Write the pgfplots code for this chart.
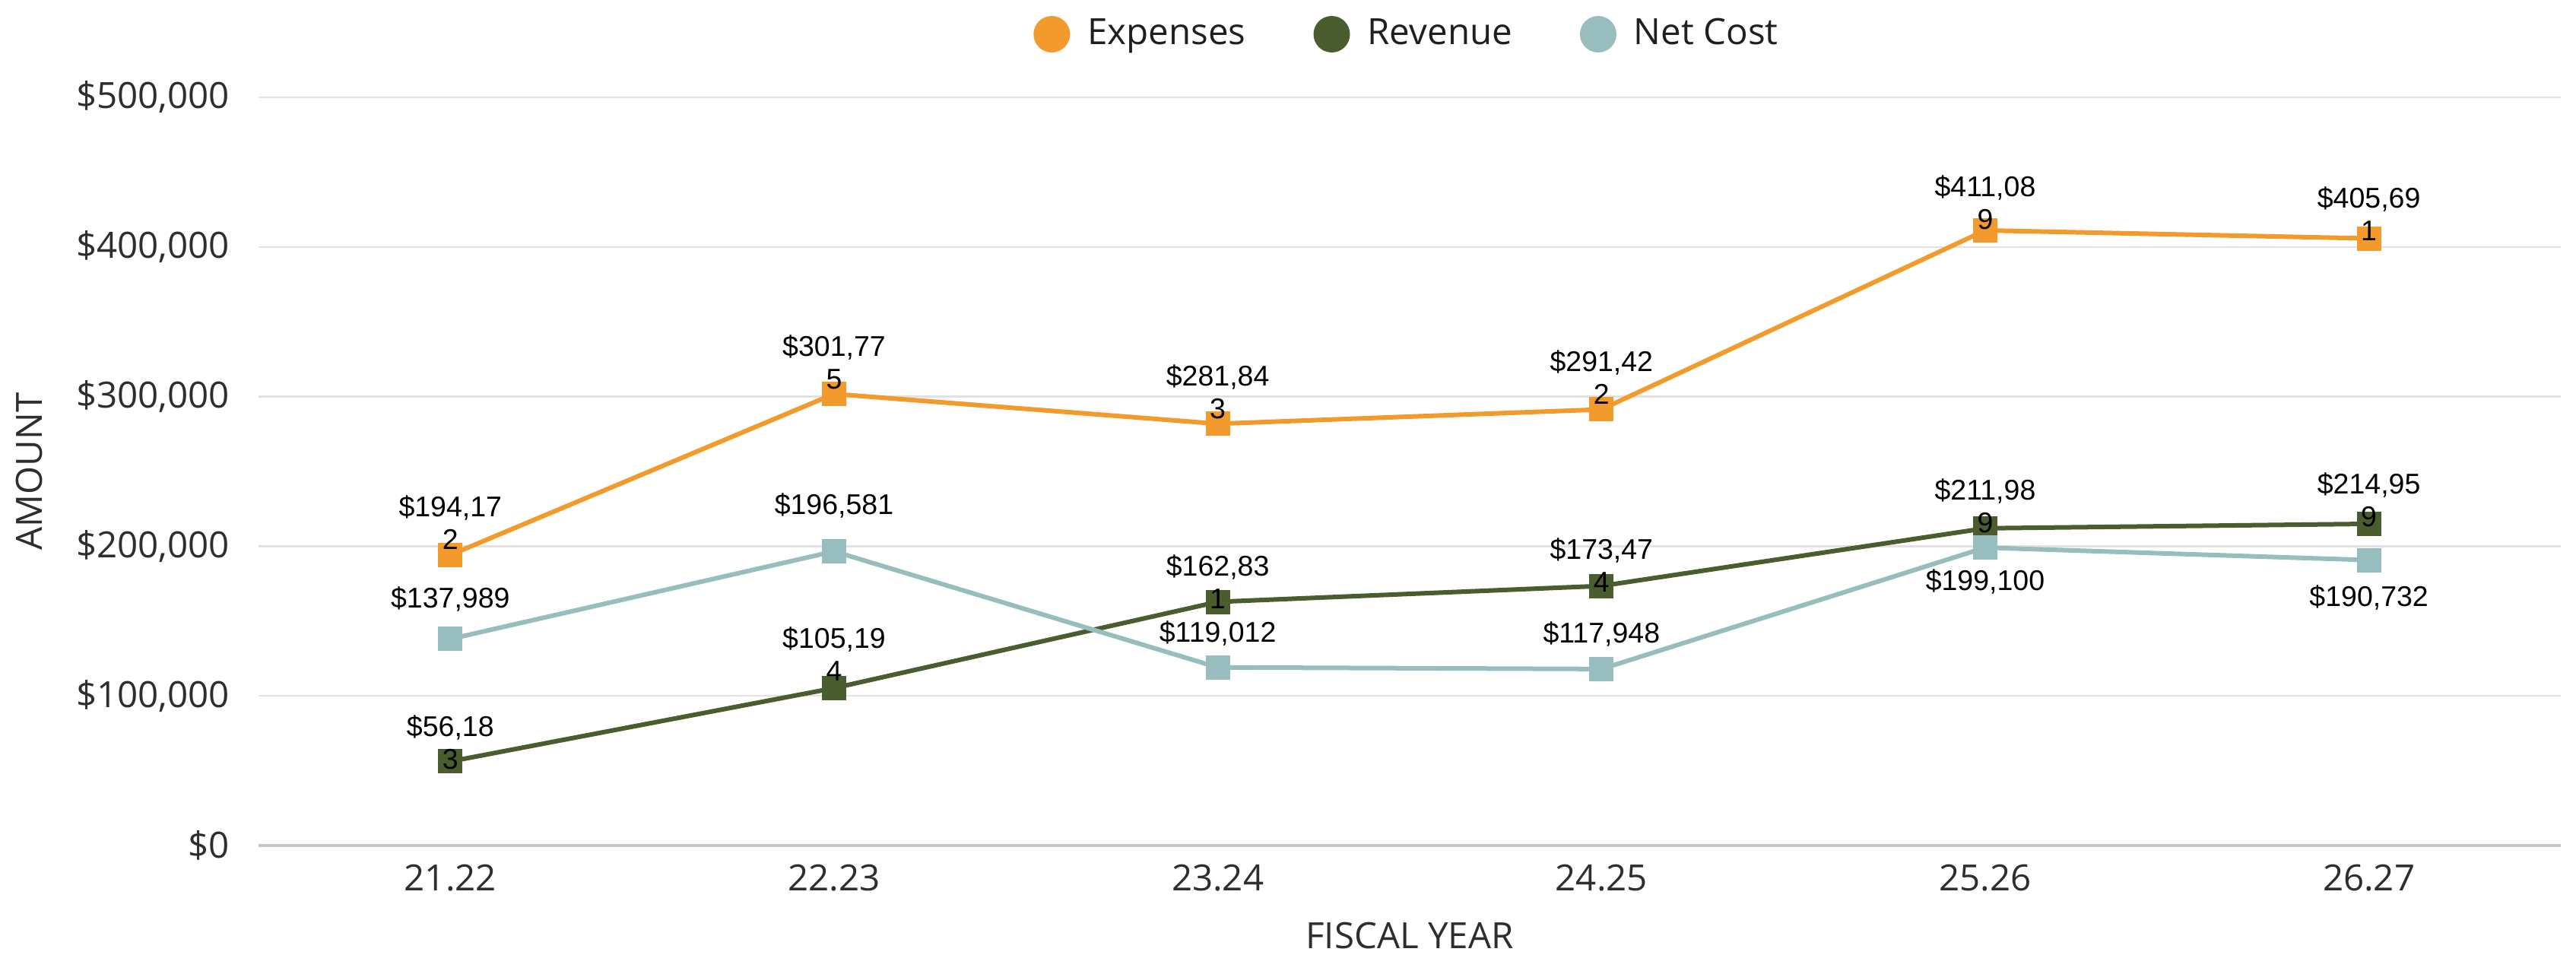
\documentclass[border=0pt]{standalone}
\usepackage{fontspec}
\setmainfont{Open Sans}
\newfontfamily\labelfont{Liberation Sans}
\usepackage{pgfplots}
\usepackage{pgfplotstable}
\pgfplotsset{compat=1.18}

\definecolor{expc}{HTML}{F39A2C}
\definecolor{revc}{HTML}{4A5D2F}
\definecolor{netc}{HTML}{98BDBE}
\definecolor{gridc}{HTML}{E2E2E2}
\definecolor{axisc}{HTML}{C6C6C6}
\definecolor{txtc}{HTML}{2E2E2E}

% x = category index, lab = data label as shown, off = label offset (pt)
\pgfplotstableread{
x y lab off
0 194172 {\$194,17\\2} 8.6
1 301775 {\$301,77\\5} 8.4
2 281843 {\$281,84\\3} 8.4
3 291422 {\$291,42\\2} 8.4
4 411089 {\$411,08\\9} 7.3
5 405691 {\$405,69\\1} 6.5
}\expenses

\pgfplotstableread{
x y lab off
0 56183 {\$56,18\\3} 5.1
1 105194 {\$105,19\\4} 8.9
2 162831 {\$162,83\\1} 5.2
3 173474 {\$173,47\\4} 5.5
4 211989 {\$211,98\\9} 5.9
5 214959 {\$214,95\\9} 6.3
}\revenue

\pgfplotstableread{
x y lab off
0 137989 {\$137,989} 10.4
1 196581 {\$196,581} 12.0
2 119012 {\$119,012} 8.9
3 117948 {\$117,948} 9.2
4 199100 {\$199,100} -8.9
5 190732 {\$190,732} -9.9
}\netcost

\pgfplotsset{
  datalabels/.style={
    nodes near coords, point meta=explicit symbolic,
    visualization depends on={\thisrow{off}\as\labeloff},
    every node near coord/.append style={font=\labelfont\fontsize{7.5}{8.6}\selectfont,
      text=black, align=center, anchor=center, inner sep=0pt, yshift=\labeloff pt}},
}

\begin{document}
\begin{tikzpicture}
\begin{axis}[
  scale only axis, width=605.6pt, height=196.8pt,
  xmin=-0.5, xmax=5.5, ymin=0, ymax=500000,
  xtick={0,...,5},
  xticklabels={21.22,22.23,23.24,24.25,25.26,26.27},
  ytick={0,100000,200000,300000,400000,500000},
  yticklabels={{\$0},{\$100,000},{\$200,000},{\$300,000},{\$400,000},{\$500,000}},
  scaled y ticks=false,
  ymajorgrids, grid style={draw=gridc, line width=0.5pt},
  axis x line*=bottom, axis y line*=left,
  x axis line style={draw=axisc, line width=0.8pt, -},
  y axis line style={draw=none},
  tick style={draw=none},
  ticklabel style={font=\fontsize{9.5}{11}\selectfont, text=txtc},
  xticklabel style={anchor=center, yshift=-8.6pt},
  yticklabel style={anchor=east, inner sep=0pt, xshift=-7.4pt},
  xlabel={FISCAL YEAR}, ylabel={AMOUNT},
  every axis x label/.style={at={(axis description cs:0.5,0)}, anchor=center, yshift=-23.8pt, font=\fontsize{9.5}{11}\selectfont, text=txtc},
  every axis y label/.style={at={(axis description cs:0,0.5)}, anchor=center, xshift=-60.2pt, rotate=90, font=\fontsize{9.5}{11}\selectfont, text=txtc},
  legend columns=3,
  legend style={at={(0.5,1)}, anchor=center, yshift=16.6pt, draw=none, fill=none,
    font=\fontsize{9.5}{11}\selectfont, text=black!88,
    nodes={inner sep=2pt},
    /tikz/every even column/.append style={column sep=15.8pt}},
  legend image code/.code={%
    \path[draw=none, fill=none] (0,-0.1pt) rectangle (12.2pt,0.1pt);
    \fill[#1, draw=none] (4.8pt,0) circle (4.8pt);},
  clip=false,
]
\addplot[color=expc, line width=1.2pt, mark=square*, mark size=2.6pt, mark options={solid}, datalabels]
  table[x=x, y=y, meta=lab] {\expenses};
\addplot[color=revc, line width=1.2pt, mark=square*, mark size=2.6pt, mark options={solid}, datalabels]
  table[x=x, y=y, meta=lab] {\revenue};
\addplot[color=netc, line width=1.2pt, mark=square*, mark size=2.6pt, mark options={solid}, datalabels]
  table[x=x, y=y, meta=lab] {\netcost};
\legend{Expenses, Revenue, Net Cost}
\end{axis}
\pgfresetboundingbox
\path[use as bounding box] (-68pt,-28.8pt) rectangle (609.6pt,222.4pt);
\end{tikzpicture}
\end{document}
